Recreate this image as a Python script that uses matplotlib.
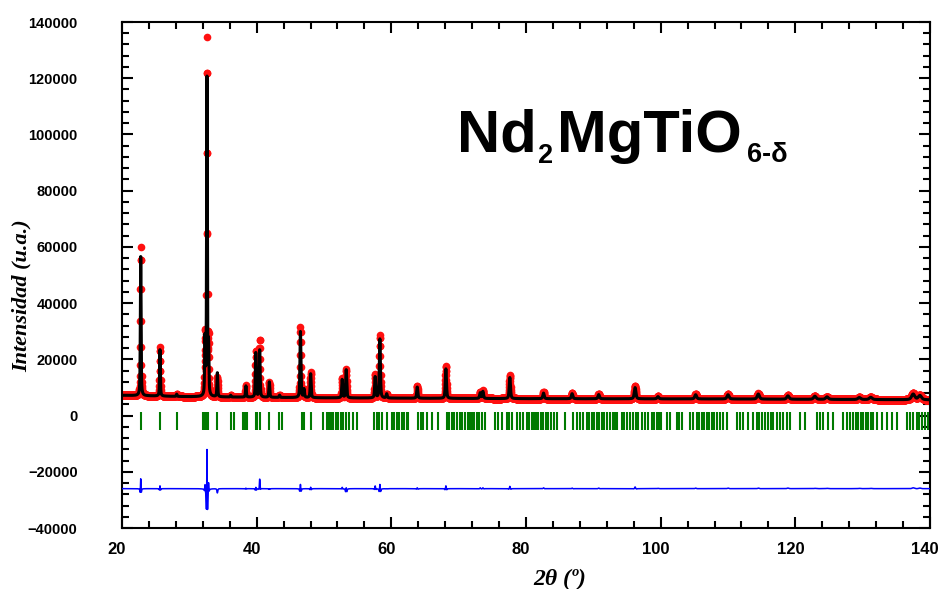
import numpy as np
import matplotlib
matplotlib.use("Agg")
import matplotlib.pyplot as plt
import matplotlib.transforms as mtransforms
from matplotlib.ticker import MultipleLocator

# peaks: position (2theta), calc height, obs height, calc fwhm, obs fwhm
peak_pos = [22.78, 25.64, 28.12, 32.33, 32.62, 32.85, 34.16, 36.14, 38.40, 39.87,
            40.45, 41.88, 43.40, 46.50, 47.03, 48.02, 52.70, 53.30, 57.60, 58.30,
            59.31, 63.85, 68.10, 73.20, 73.60, 77.60, 82.60, 86.85, 90.80, 96.20,
            99.60, 105.20, 110.00, 114.50, 118.90, 122.90, 124.70, 129.50, 131.20, 137.50,
            138.50]
peak_calc = [49500, 16500, 800, 20000, 113000, 17000, 8500, 600, 4000, 16000,
             17000, 5500, 800, 23500, 3000, 8500, 6500, 10000, 7500, 21000,
             1500, 4000, 10500, 2000, 2500, 7500, 2000, 1800, 1500, 4000,
             800, 1500, 1500, 1800, 1200, 1100, 900, 700, 800, 2000,
             1500]
peak_obs = [53000, 17500, 800, 22000, 127000, 20000, 7000, 600, 4200, 16500,
            20500, 5500, 800, 25000, 3000, 9000, 7000, 10300, 8500, 22500,
            1500, 4300, 11500, 2300, 2800, 8300, 2300, 2000, 1700, 4600,
            900, 1700, 1700, 2000, 1400, 1200, 1000, 800, 900, 2300,
            1700]
peak_wcalc = [0.13, 0.13, 0.14, 0.13, 0.13, 0.13, 0.14, 0.14, 0.14, 0.15,
              0.15, 0.15, 0.15, 0.16, 0.16, 0.16, 0.17, 0.17, 0.18, 0.18,
              0.18, 0.19, 0.20, 0.21, 0.21, 0.22, 0.24, 0.25, 0.26, 0.28,
              0.30, 0.32, 0.35, 0.38, 0.40, 0.43, 0.45, 0.48, 0.50, 0.55,
              0.55]
peak_wobs = [0.12, 0.12, 0.14, 0.12, 0.11, 0.115, 0.14, 0.14, 0.13, 0.14,
             0.135, 0.14, 0.15, 0.145, 0.16, 0.145, 0.16, 0.14, 0.16, 0.16,
             0.17, 0.17, 0.18, 0.19, 0.19, 0.20, 0.22, 0.23, 0.24, 0.25,
             0.28, 0.30, 0.33, 0.36, 0.38, 0.41, 0.43, 0.46, 0.48, 0.52,
             0.52]

# background points
bg_x = [20, 30, 50, 80, 110, 140]
bg_y = [7200, 6700, 6300, 6000, 5900, 5600]

# Bragg reflection positions
bragg = [22.77, 25.64, 28.12, 32.08, 32.33, 32.67, 32.82, 34.16, 36.14, 36.68,
         38.02, 38.27, 38.52, 39.85, 40.10, 40.50, 41.88, 43.37, 43.82, 46.69,
         47.03, 48.02, 49.90, 50.40, 50.65, 50.80, 51.04, 51.39, 51.73, 52.13,
         52.53, 52.87, 53.22, 53.71, 54.36, 54.85, 57.48, 57.82, 58.17, 58.57,
         59.31, 60.05, 60.40, 60.80, 61.14, 61.54, 61.93, 62.28, 62.53, 64.01,
         64.41, 64.75, 65.25, 66.00, 66.98, 68.22, 68.57, 68.96, 69.36, 69.71,
         70.20, 70.55, 70.94, 71.34, 71.69, 71.93, 72.33, 72.68, 73.02, 73.42,
         73.91, 75.40, 75.80, 76.39, 77.13, 77.48, 77.87, 78.62, 79.11, 79.60,
         80.10, 80.45, 80.84, 81.09, 81.24, 81.49, 81.83, 82.18, 82.57, 82.97,
         83.32, 83.67, 84.16, 84.66, 85.80, 87.03, 87.53, 88.02, 88.52, 89.01,
         89.41, 89.76, 90.10, 90.50, 90.89, 91.24, 91.59, 92.08, 92.48, 92.88,
         93.22, 93.57, 94.21, 94.56, 95.05, 95.45, 95.94, 96.34, 96.68, 97.18,
         97.68, 98.17, 98.67, 99.01, 99.41, 99.80, 100.00, 100.89, 101.39, 102.38,
         102.77, 103.12, 104.36, 104.85, 105.35, 105.74, 106.09, 106.44, 106.84, 107.23,
         107.58, 107.92, 108.32, 108.81, 109.31, 109.81, 111.29, 111.78, 112.28, 113.02,
         113.77, 114.26, 114.61, 115.01, 115.50, 115.99, 116.39, 116.73, 117.23, 117.73,
         118.22, 118.72, 119.21, 120.70, 121.44, 123.18, 123.67, 124.16, 124.90, 125.65,
         127.13, 127.63, 128.12, 128.62, 128.97, 129.36, 129.76, 130.10, 130.45, 130.85,
         131.24, 131.59, 132.09, 132.83, 133.57, 134.32, 135.06, 136.54, 137.04, 137.53,
         138.03, 138.37, 138.77, 139.26, 139.70]

diff_offset = -26000


def pvoigt(x, x0, h, w):
    t = (x - x0) / w
    return h * (0.5 * np.exp(-4 * np.log(2) * t**2) + 0.5 / (1 + 4 * t**2))


tt = np.arange(20, 140.001, 0.02)
bg = np.interp(tt, bg_x, bg_y)
ycalc = bg.copy()
yobs = bg.copy()
for p, hc, ho, wc, wo in zip(peak_pos, peak_calc, peak_obs, peak_wcalc, peak_wobs):
    ycalc += pvoigt(tt, p, hc, wc)
    yobs += pvoigt(tt, p, ho, wo)
ydiff = yobs - ycalc + diff_offset

plt.rcParams['font.family'] = ['Liberation Sans', 'DejaVu Sans']

fig = plt.figure(figsize=(9.39, 5.89), dpi=100)
ax = fig.add_axes([122 / 939, 61 / 589, 808 / 939, 506 / 589])

ax.plot(tt, yobs, 'o', color='#ff1010', ms=5.5, mec='none', zorder=2)
ax.plot(tt, ycalc, '-', color='black', lw=2.2, zorder=3)
ax.plot(tt, ydiff, '-', color='#0000ff', lw=1.1, zorder=3)
ax.vlines(bragg, -5000, 1400, color='#007a00', lw=1.5, zorder=2)

ax.set_xlim(20, 140)
ax.set_ylim(-40000, 140000)
ax.xaxis.set_major_locator(MultipleLocator(20))
ax.xaxis.set_minor_locator(MultipleLocator(4))
ax.yaxis.set_major_locator(MultipleLocator(20000))
ax.yaxis.set_minor_locator(MultipleLocator(4000))
ax.tick_params(which='both', direction='in', top=True, right=True, width=1.5)
ax.tick_params(which='major', length=8)
ax.tick_params(which='minor', length=5)
ax.tick_params(axis='y', pad=32, labelsize=10.5)
ax.tick_params(axis='x', pad=10, labelsize=12)
for lab in ax.get_yticklabels():
    lab.set_fontweight('bold')
shift = mtransforms.ScaledTranslation(-5 / 100, 0, fig.dpi_scale_trans)
for lab in ax.get_xticklabels():
    lab.set_fontweight('bold')
    lab.set_family(['Liberation Sans Narrow', 'Liberation Sans'])
    lab.set_transform(lab.get_transform() + shift)
for sp in ax.spines.values():
    sp.set_linewidth(1.5)

ax.set_ylabel('Intensidad (u.a.)', fontsize=16, fontweight='bold', fontstyle='italic',
              family='Liberation Serif')
ax.yaxis.set_label_coords(-0.112, 0.46)
ax.set_xlabel('2θ (º)', fontsize=17, fontweight='bold', fontstyle='italic',
              family='Liberation Serif')
ax.xaxis.set_label_coords(0.542, -0.08)

# formula label, built from pieces so the subscripts keep their small size
big, small = 43, 19.5
fig.text(457 / 939, 1 - 152 / 589, 'Nd', fontsize=big, fontweight='bold', va='baseline')
fig.text(538 / 939, 1 - 163 / 589, '2', fontsize=small, fontweight='bold', va='baseline')
fig.text(557 / 939, 1 - 152 / 589, 'MgTiO', fontsize=big, fontweight='bold', va='baseline')
fig.text(747 / 939, 1 - 162 / 589, '6-δ', fontsize=small, fontweight='bold', va='baseline')

fig.savefig('out.png', dpi=100)
